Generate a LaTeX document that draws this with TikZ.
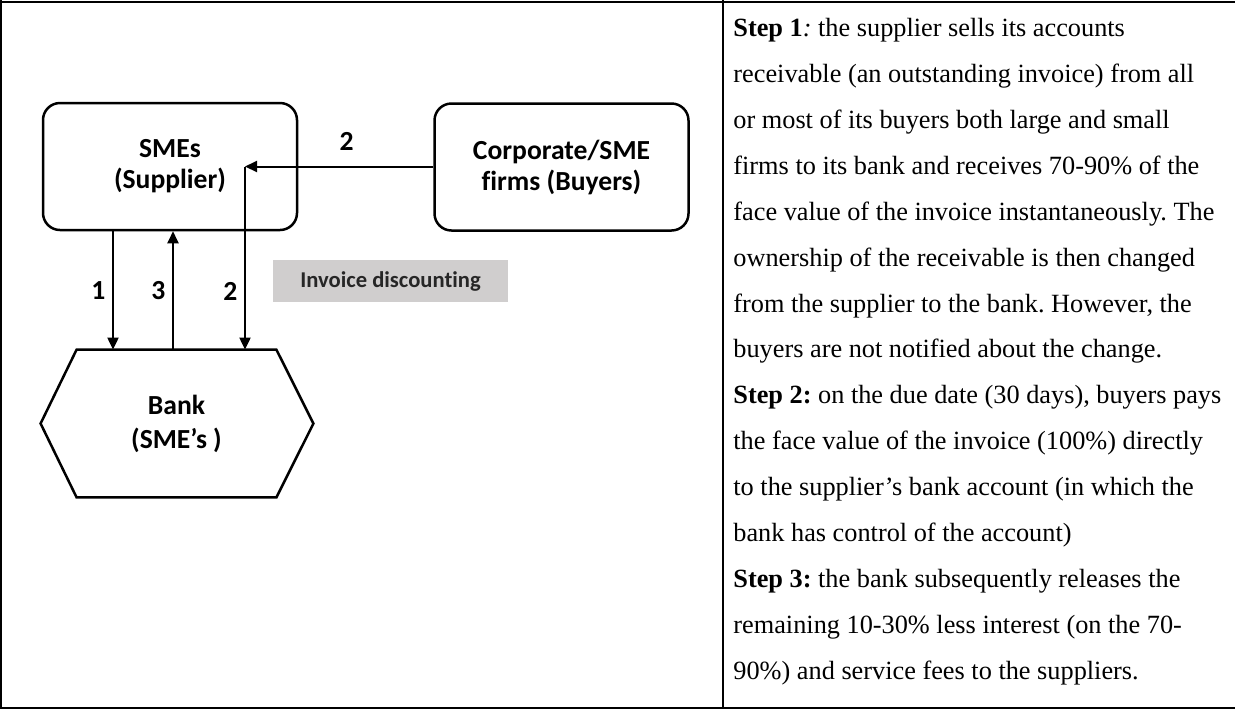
\documentclass[tikz,border=0pt]{standalone}
\usepackage{fontspec}
\setmainfont{Liberation Serif}
\newfontfamily\diagfont[Ligatures=NoCommon]{Carlito}
\usetikzlibrary{arrows.meta, positioning, calc}
\tikzset{>={Triangle[length=6pt,width=5.5pt]}}
\definecolor{tagfill}{RGB}{208,206,206}

\begin{document}
\begin{tikzpicture}[x=0.5pt,y=-0.5pt,
    party/.style={draw, line width=1.25pt, rounded corners=8.5pt,
      minimum width=127pt, minimum height=63.5pt, align=center,
      font={\diagfont\bfseries\fontsize{13.8}{15.5}\selectfont}},
    bankbox/.style={minimum width=99.5pt, minimum height=73.5pt, align=center,
      font={\diagfont\bfseries\fontsize{13.8}{17}\selectfont}},
    flow/.style={->, line width=1pt},
    num/.style={font={\diagfont\bfseries\fontsize{13.8}{15.5}\selectfont}},
    greytag/.style={fill=tagfill, minimum width=117.5pt, minimum height=21pt,
      font={\diagfont\bfseries\fontsize{11.3}{13}\selectfont}, text=black!85},
    steps/.style={align=left, inner sep=0pt,
      font={\fontsize{13.15}{22.95}\selectfont\frenchspacing}}]
  \useasboundingbox (0,0) rectangle (1235,709);

  % table rules
  \draw[line width=1pt] (0,1.5) -- (1235,1.5);
  \draw[line width=1pt] (0,708) -- (1235,708);
  \draw[line width=1pt] (1,0) -- (1,709);
  \draw[line width=1pt] (723,0) -- (723,709);

  % parties
  \node[party] (smes) at (170,166.5) {SMEs\\(Supplier)};
  \node[party] (buyers) at (561.5,167) {Corporate/SME\\firms (Buyers)};
  \node[bankbox] (bank) at (176.5,423.5) {Bank\\(SME’s )};
  \draw[line width=1.25pt] (bank.north west) -- (bank.north east)
    -- ($(bank.east)+(37,0)$) -- (bank.south east) -- (bank.south west)
    -- ($(bank.west)+(-36,0)$) -- cycle;

  \node[greytag] (tag) at (390.5,281) {Invoice discounting};

  % flows
  \coordinate (turn) at ([xshift=37.5pt]smes.center);
  \draw[flow] (buyers.west |- turn) -- (turn)
    node[pos=0.46, above=4pt, num] {2};
  \draw[flow] (turn) -- (turn |- bank.north)
    node[pos=0.68, left, num] {2};
  \draw[flow] ([xshift=-28.5pt]smes.south) -- ([xshift=-28.5pt]smes.south |- bank.north)
    node[midway, left, num] {1};
  \draw[flow] ([xshift=1.5pt]smes.south |- bank.north) -- ([xshift=1.5pt]smes.south)
    node[midway, left, num] {3};

  % steps text
  \node[steps, anchor=north west] (steps) at (733,18) {%
    \textbf{Step 1}\textit{:} the supplier sells its accounts\\
    receivable (an outstanding invoice) from all\\
    or most of its buyers both large and small\\
    firms to its bank and receives 70-90\% of the\\
    face value of the invoice instantaneously. The\\
    ownership of the receivable is then changed\\
    from the supplier to the bank. However, the\\
    buyers are not notified about the change.\\
    \textbf{Step 2:} on the due date (30 days), buyers pays\\
    the face value of the invoice (100\%) directly\\
    to the supplier’s bank account (in which the\\
    bank has control of the account)\\
    \textbf{Step 3:} the bank subsequently releases the\\
    remaining 10-30\% less interest (on the 70-\\
    90\%) and service fees to the suppliers.};
\end{tikzpicture}
\end{document}
